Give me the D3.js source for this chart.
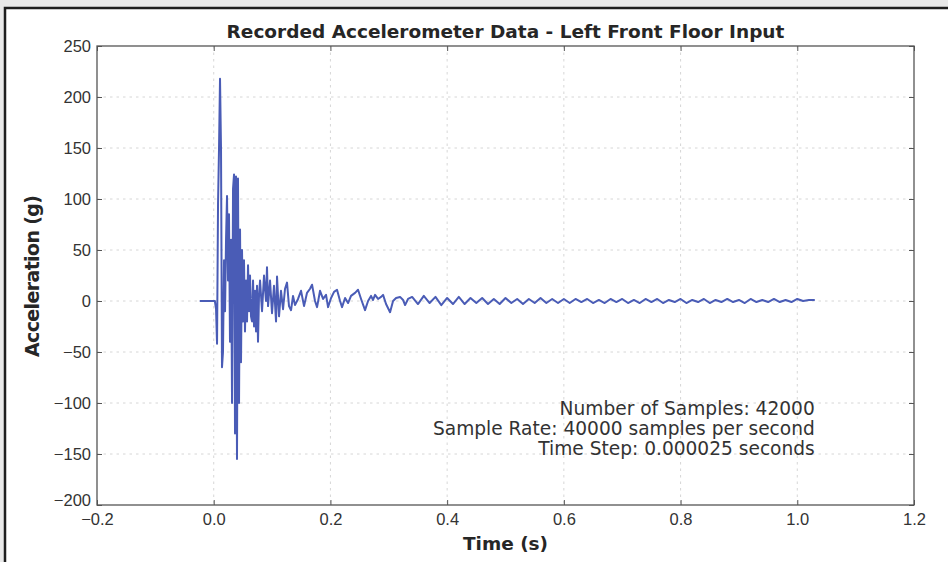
<!DOCTYPE html>
<html>
<head>
<meta charset="utf-8">
<script src="https://cdn.jsdelivr.net/npm/d3@7"></script>
<style>
  html, body { margin: 0; padding: 0; background: #e9e9e9; }
  svg { display: block; font-family: "DejaVu Sans", sans-serif; }
</style>
</head>
<body>
<div id="chart"></div>
<script>

const timeS = [
  -0.024, 0.002, 0.004, 0.0057, 0.0074, 0.0091, 0.0108, 0.0125, 0.0142, 0.0159,
  0.0177, 0.0194, 0.0211, 0.0228, 0.0245, 0.0262, 0.0279, 0.0297, 0.0314, 0.0331,
  0.0348, 0.0365, 0.0382, 0.0399, 0.0416, 0.0434, 0.0451, 0.0468, 0.0485, 0.0502,
  0.0519, 0.0536, 0.0554, 0.0571, 0.0588, 0.0605, 0.0622, 0.0639, 0.0656, 0.0674,
  0.0691, 0.0708, 0.0725, 0.0742, 0.0759, 0.0776, 0.0794, 0.0828, 0.0862, 0.0896,
  0.0913, 0.0931, 0.0965, 0.0999, 0.1033, 0.1068, 0.1085, 0.1119, 0.1153, 0.1188,
  0.1222, 0.1256, 0.1290, 0.1325, 0.1359, 0.1393, 0.1445, 0.1496, 0.1548, 0.1599,
  0.1651, 0.1685, 0.1736, 0.1771, 0.1822, 0.1874, 0.1925, 0.1959, 0.2011, 0.2062,
  0.2113, 0.2165, 0.2199, 0.2251, 0.2302, 0.2353, 0.2422, 0.2473, 0.2525, 0.2593,
  0.2645, 0.2696, 0.2730, 0.2765, 0.2816, 0.2868, 0.2902, 0.2953, 0.3022, 0.3073,
  0.3125, 0.3193, 0.3245, 0.3279, 0.3330,
  0.340, 0.350, 0.360, 0.370, 0.380, 0.390, 0.400, 0.410, 0.420, 0.430,
  0.440, 0.450, 0.460, 0.470, 0.480, 0.490, 0.500, 0.510, 0.520, 0.530,
  0.540, 0.550, 0.560, 0.570, 0.580, 0.590, 0.600, 0.610, 0.620, 0.630,
  0.640, 0.650, 0.660, 0.670, 0.680, 0.690, 0.700, 0.710, 0.720, 0.730,
  0.740, 0.750, 0.760, 0.770, 0.780, 0.790, 0.800, 0.810, 0.820, 0.830,
  0.840, 0.850, 0.860, 0.870, 0.880, 0.890, 0.900, 0.910, 0.920, 0.930,
  0.940, 0.950, 0.960, 0.970, 0.980, 0.990, 1.000, 1.010, 1.020, 1.030
];

const accelG = [
  0, 0, -8, -42, 95, 150, 218, 150, -65, -50,
  40, -10, 60, 103, 20, 85, -40, 60, -100, 110,
  124, -130, 122, -155, 120, -100, 70, -60, 50, -20,
  40, -30, 20, -20, 35, -10, 25, -15, -20, 20,
  -25, 10, -30, 15, -40, 5, 20, -10, 25, 0,
  33, -5, 20, -12, 15, -20, 24, -15, 10, -8,
  12, 18, -5, -9, 5, -4, 2, 10, -5, 8,
  12, 16, 0, -6, 10, 2, 6, -6, 3, 9,
  11, 0, -6, 3, -2, 5, 8, 11, 2, -9,
  0, 5, 1, 6, 2, 4, 6, -3, -11, 0,
  3, 4, 1, -4, 2,
  4, -3, 5, -2, 4, -4, 3, -3, 4, -3,
  3, -2, 3, -3, 2, -3, 3, -2, 2, -3,
  2, -2, 3, -2, 2, -2, 2, -2, 2, -1,
  2, -2, 1, -2, 2, -1, 2, -2, 1, -2,
  2, -1, 2, -2, 1, -1, 2, -2, 1, -1,
  2, -2, 1, -1, 2, -1, 1, -2, 2, -1,
  1, -1, 2, -1, 1, -1, 2, 0, 1, 1
];

const xTicks = [-0.2, 0.0, 0.2, 0.4, 0.6, 0.8, 1.0, 1.2];
const yTicks = [-200, -150, -100, -50, 0, 50, 100, 150, 200, 250];

const titleText = "Recorded Accelerometer Data - Left Front Floor Input";
const xLabelText = "Time (s)";
const yLabelText = "Acceleration (g)";
const noteLines = [
  "Number of Samples: 42000",
  "Sample Rate: 40000 samples per second",
  "Time Step: 0.000025 seconds"
];

{
    const W = 948, H = 562;
    const margin = { top: 46, right: 34, bottom: 57, left: 97 };
    const width = W - margin.left - margin.right;
    const height = H - margin.top - margin.bottom;

    const root = d3.select("#chart")
        .append("svg")
        .attr("width", W)
        .attr("height", H);

    // White paper with dark frame (left + top)
    root.append("rect")
        .attr("x", 5).attr("y", 8)
        .attr("width", W + 10).attr("height", H + 10)
        .attr("fill", "#ffffff")
        .attr("stroke", "#1e1e1e")
        .attr("stroke-width", 2.5);

    const svg = root.append("g")
        .attr("transform", `translate(${margin.left},${margin.top})`);

    const x = d3.scaleLinear().domain([-0.2, 1.2]).range([0, width]);
    const y = d3.scaleLinear().domain([-200, 250]).range([height, 0]);

    // Dotted grid
    svg.append("g")
        .selectAll("line")
        .data(xTicks.slice(1, -1))
        .join("line")
        .attr("x1", d => x(d)).attr("x2", d => x(d))
        .attr("y1", 0).attr("y2", height)
        .attr("stroke", "#cccccc")
        .attr("stroke-width", 0.8)
        .attr("stroke-dasharray", "2.5,4");

    svg.append("g")
        .selectAll("line")
        .data(yTicks.slice(1, -1))
        .join("line")
        .attr("x1", 0).attr("x2", width)
        .attr("y1", d => y(d)).attr("y2", d => y(d))
        .attr("stroke", "#cccccc")
        .attr("stroke-width", 0.8)
        .attr("stroke-dasharray", "2.5,4");

    // Signal
    const pts = timeS.map((t, i) => [t, accelG[i]]);
    svg.append("path")
        .datum(pts)
        .attr("fill", "none")
        .attr("stroke", "#4a5cb6")
        .attr("stroke-width", 2)
        .attr("stroke-linejoin", "round")
        .attr("d", d3.line().x(d => x(d[0])).y(d => y(d[1])));

    // Axes: inward ticks on all four sides, labels only left/bottom
    const fmtX = d3.format(".1f");
    const fmtY = d3.format("d");

    const styleAxis = g => {
        g.select(".domain").remove();
        g.selectAll(".tick line").attr("stroke", "#555").attr("stroke-width", 1);
        g.selectAll(".tick text").attr("fill", "#333").style("font-size", "16.5px");
    };

    svg.append("g")
        .attr("transform", `translate(0,${height})`)
        .call(d3.axisBottom(x).tickValues(xTicks).tickFormat(fmtX).tickSizeInner(-5).tickSizeOuter(0).tickPadding(8))
        .call(styleAxis);

    svg.append("g")
        .call(d3.axisTop(x).tickValues(xTicks).tickFormat("").tickSizeInner(-5).tickSizeOuter(0))
        .call(styleAxis);

    const yAxisG = svg.append("g")
        .call(d3.axisLeft(y).tickValues(yTicks).tickFormat(fmtY).tickSizeInner(-5).tickSizeOuter(0).tickPadding(6))
        .call(styleAxis);

    // lowest y label sits slightly raised, as in the original
    yAxisG.selectAll(".tick text")
        .filter(d => d === yTicks[0])
        .attr("y", -5);

    svg.append("g")
        .attr("transform", `translate(${width},0)`)
        .call(d3.axisRight(y).tickValues(yTicks).tickFormat("").tickSizeInner(-5).tickSizeOuter(0))
        .call(styleAxis);

    // Frame
    svg.append("rect")
        .attr("width", width).attr("height", height)
        .attr("fill", "none")
        .attr("stroke", "#555")
        .attr("stroke-width", 1.3);

    // Title
    svg.append("text")
        .attr("x", width / 2)
        .attr("y", -8)
        .attr("text-anchor", "middle")
        .attr("font-weight", "bold")
        .attr("font-size", "18.5px")
        .attr("fill", "#262626")
        .text(titleText);

    // Axis labels
    svg.append("text")
        .attr("x", width / 2)
        .attr("y", height + 45)
        .attr("text-anchor", "middle")
        .attr("font-weight", "bold")
        .attr("font-size", "18.5px")
        .attr("fill", "#262626")
        .text(xLabelText);

    svg.append("text")
        .attr("transform", "rotate(-90)")
        .attr("x", -(276 - margin.top))
        .attr("y", -58)
        .attr("text-anchor", "middle")
        .attr("font-weight", "bold")
        .attr("font-size", "19px")
        .attr("textLength", 162)
        .attr("lengthAdjust", "spacing")
        .attr("fill", "#262626")
        .text(yLabelText);

    // Annotation block
    svg.append("g")
        .selectAll("text")
        .data(noteLines)
        .join("text")
        .attr("x", x(1.03))
        .attr("y", (d, i) => 369 + i * 20)
        .attr("text-anchor", "end")
        .attr("font-size", "18.6px")
        .attr("fill", "#333")
        .text(d => d);
}
</script>
</body>
</html>
